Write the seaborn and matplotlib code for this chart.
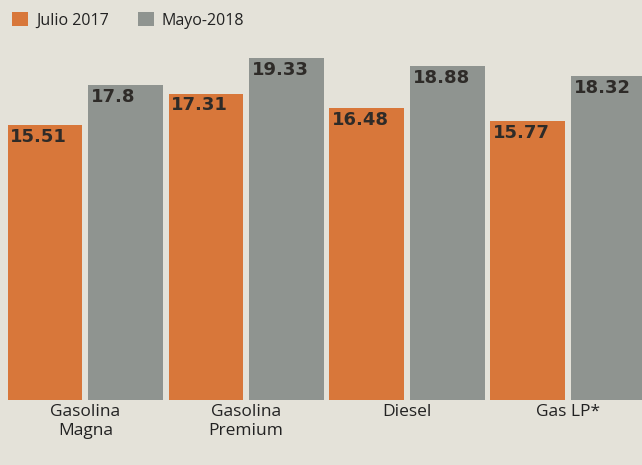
import matplotlib
matplotlib.use("Agg")
import matplotlib.pyplot as plt
import seaborn as sns
import pandas as pd
from matplotlib.patches import Patch

categories = ["Gasolina\nMagna", "Gasolina\nPremium", "Diesel", "Gas LP*"]
series_names = ["Julio 2017", "Mayo-2018"]
julio_2017 = [15.51, 17.31, 16.48, 15.77]
mayo_2018 = [17.8, 19.33, 18.88, 18.32]
value_labels = {"Julio 2017": ["15.51", "17.31", "16.48", "15.77"],
                "Mayo-2018": ["17.8", "19.33", "18.88", "18.32"]}

df = pd.DataFrame({
    "cat": categories * 2,
    "serie": [series_names[0]] * 4 + [series_names[1]] * 4,
    "valor": julio_2017 + mayo_2018,
})

sns.set_style("white")
plt.rcParams['font.family'] = ['Open Sans', 'DejaVu Sans']

bg = "#e4e2d9"
colors = ["#d8773a", "#8f9490"]

fig = plt.figure(figsize=(6.42, 4.65), dpi=100, facecolor=bg)
ax = fig.add_axes([0, 65 / 465, 1, 400 / 465])
ax.set_facecolor(bg)

sns.barplot(data=df, x="cat", y="valor", hue="serie", order=categories,
            hue_order=series_names, palette=colors, width=1.0, gap=0.07,
            saturation=1, ax=ax, legend=False, edgecolor="none", linewidth=0)

ax.set_xlim(-0.53, 3.46)
ax.set_ylim(0, 22.6)

for container, name in zip(ax.containers, series_names):
    for bar, lab in zip(container, value_labels[name]):
        ax.annotate(lab, (bar.get_x(), bar.get_height()),
                    xytext=(2, -2), textcoords="offset points",
                    ha="left", va="top", fontsize=13, fontweight="bold",
                    color="#2e2b28", family=["DejaVu Sans"])

ax.set_xlabel("")
ax.set_ylabel("")
ax.set_yticks([])
ax.tick_params(axis="x", length=0, pad=3, labelsize=12.5, labelcolor="#222222")
ax.set_xticks(range(len(categories)))
ax.set_xticklabels(categories, linespacing=1.2)
for s in ax.spines.values():
    s.set_visible(False)

handles = [Patch(facecolor=c, edgecolor="none") for c in colors]
leg = fig.legend(handles, series_names, loc="upper left",
                 bbox_to_anchor=(-0.003, 1.005), ncol=2, frameon=False,
                 fontsize=11.5, handlelength=1.0, handleheight=1.0,
                 handletextpad=0.5, columnspacing=1.8,
                 labelcolor="#222222")

fig.savefig("out.png", dpi=100, facecolor=bg)
